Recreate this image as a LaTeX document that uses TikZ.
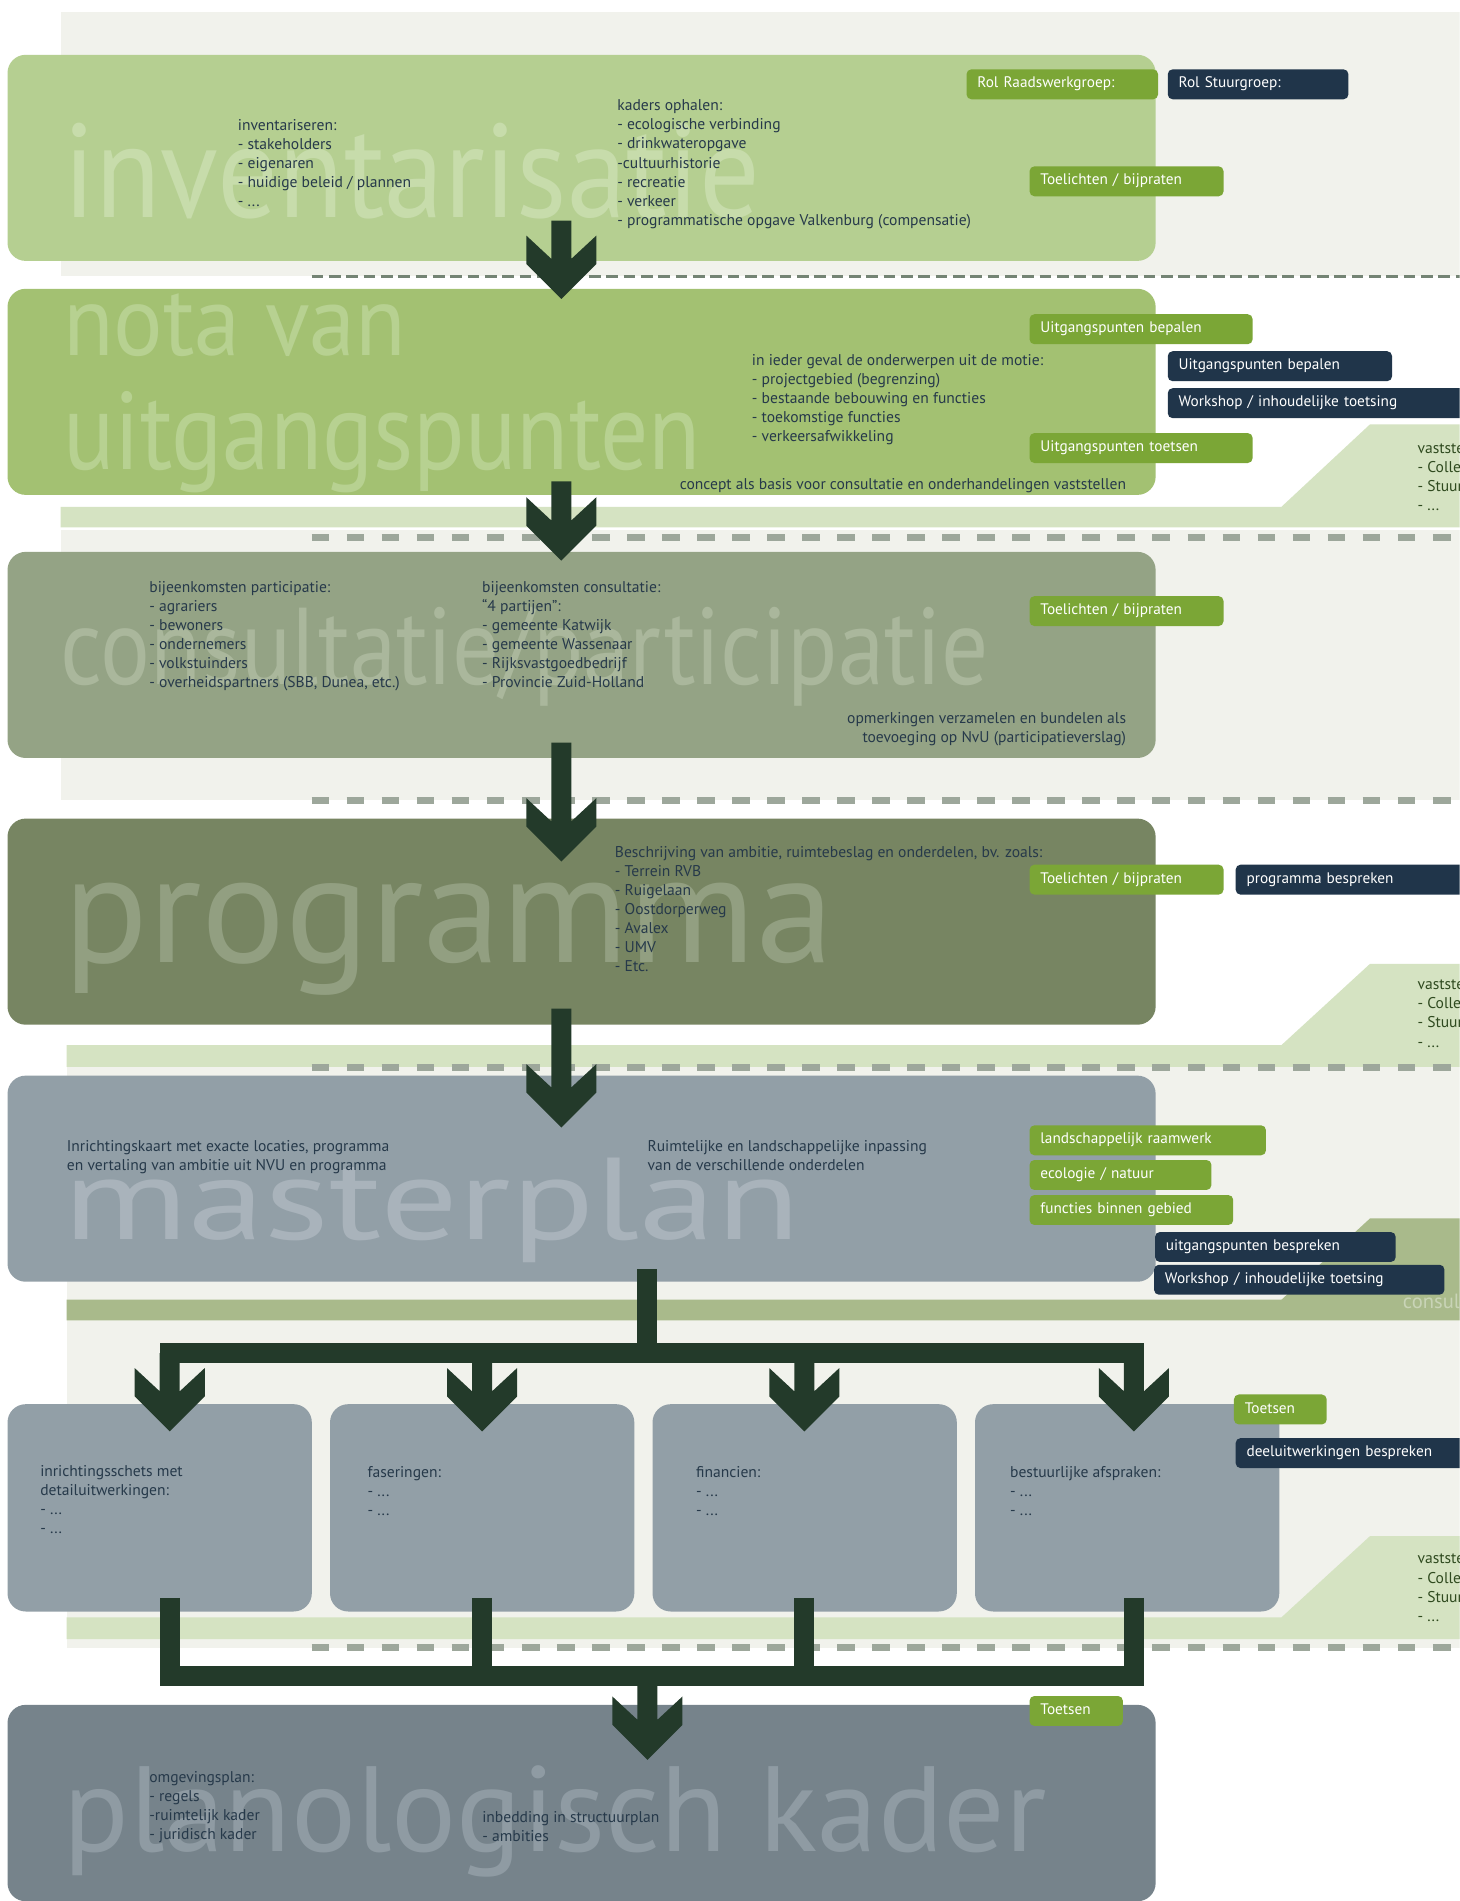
\documentclass[tikz,border=0pt]{standalone}
\usepackage{fontspec}
\setmainfont{PT Sans}
\usetikzlibrary{calc}

\definecolor{panelgray}{HTML}{F1F2EC}
\definecolor{invgreen}{HTML}{B5CF91}
\definecolor{invword}{HTML}{C7DCAB}
\definecolor{notagreen}{HTML}{A3C172}
\definecolor{notaword}{HTML}{B7D191}
\definecolor{consgreen}{HTML}{94A385}
\definecolor{consword}{HTML}{AAB79C}
\definecolor{proggreen}{HTML}{778562}
\definecolor{progword}{HTML}{929F81}
\definecolor{mastergray}{HTML}{929FA7}
\definecolor{masterword}{HTML}{A9B3BB}
\definecolor{plangray}{HTML}{76838B}
\definecolor{planword}{HTML}{8F9BA3}
\definecolor{bandlight}{HTML}{D5E3C2}
\definecolor{banddark}{HTML}{A9BA8B}
\definecolor{bandword}{HTML}{C9D4B7}
\definecolor{arrowgreen}{HTML}{233A2A}
\definecolor{taggreen}{HTML}{7BA636}
\definecolor{tagnavy}{HTML}{20354A}
\definecolor{textnavy}{HTML}{26394A}
\definecolor{textolive}{HTML}{2F4A1F}
\definecolor{dashthin}{HTML}{748474}
\definecolor{dashthick}{HTML}{9DA79B}

% big pale word in the background of a stage box
\newcommand{\bigtitle}[3]{\resizebox{#2pt}{\height}{\fontsize{#1pt}{#1pt}\selectfont #3}}
% lines of text, hung from the baseline of the first line
\newcommand{\lines}[1]{\begin{tabular}[t]{@{}l@{}}#1\end{tabular}}
\newcommand{\rlines}[1]{\begin{tabular}[t]{@{}r@{}}#1\end{tabular}}
% block arrow with chevron head, from #1 down to the tip #2
\newcommand{\flowarrow}[2]{%
  \fill[arrowgreen] ($(#1)+(-8.25,0)$) -- ($(#2)+(-8.25,-33.1)$) -- ($(#2)+(-28.9,-52.3)$)
    -- ($(#2)+(-28.9,-28.9)$) -- (#2) -- ($(#2)+(28.9,-28.9)$) -- ($(#2)+(28.9,-52.3)$)
    -- ($(#2)+(8.25,-33.1)$) -- ($(#1)+(8.25,0)$) -- cycle;}

\begin{document}
\begin{tikzpicture}[x=1pt, y=-1pt,
  stage/.style={rounded corners=15pt, inner sep=0pt, anchor=north west, minimum width=947pt, minimum height=170pt},
  subbox/.style={stage, minimum width=251pt, minimum height=171pt},
  bigword/.style={anchor=base west, inner sep=0pt},
  body/.style={anchor=base west, inner sep=0pt, text=textnavy, font=\fontsize{12.85}{15.7}\selectfont},
  bandtext/.style={body, text=textolive},
  tag/.style={rounded corners=4pt, anchor=north west, inner xsep=9pt, inner ysep=0pt, minimum height=24.7pt,
    align=left, text=white, text height=9pt, text depth=3pt, font=\fontsize{12.6}{15}\selectfont},
  flowline/.style={draw=arrowgreen, line width=16.5pt},
  thindash/.style={draw=dashthin, line width=2.2pt, dash pattern=on 9.6pt off 4.7pt},
  thickdash/.style={draw=dashthick, line width=5.8pt, dash pattern=on 14.6pt off 14.3pt}]
\useasboundingbox (0,0) rectangle (1204,1568);
\clip (0,0) rectangle (1204,1568);
\fill[white] (0,0) rectangle (1204,1568);

% background panels and bands
\fill[panelgray] (50,10) rectangle (1204,228);
\fill[panelgray] (50,437) rectangle (1204,660);
\fill[panelgray] (55,880) rectangle (1204,1359);
\fill[bandlight] (50,435) -- (50,418) -- (1057,418) -- (1130,350) -- (1204,350) -- (1204,435) -- cycle;
\fill[bandlight] (55,880) -- (55,862) -- (1057,862) -- (1130,795) -- (1204,795) -- (1204,880) -- cycle;
\fill[banddark] (55,1089) -- (55,1072) -- (1057,1072) -- (1130,1005) -- (1204,1005) -- (1204,1089) -- cycle;
\fill[bandlight] (55,1352) -- (55,1334) -- (1057,1334) -- (1130,1267) -- (1204,1267) -- (1204,1352) -- cycle;
\node[bandtext] (vast1) at (1169,374) {\lines{vaststellen:\\- College\\- Stuurgroep\\- ...}};
\node[bandtext] (vast2) at (1169,816.5) {\lines{vaststellen:\\- College\\- Stuurgroep\\- ...}};
\node[bandtext] (vast3) at (1169,1290) {\lines{vaststellen:\\- College\\- Stuurgroep\\- ...}};
\node[anchor=base west, inner sep=0pt, text=bandword, font=\fontsize{17}{17}\selectfont] (consultlabel) at (1157,1079) {consultatie};

\draw[thindash] (257,228) -- (1204,228);
\draw[thickdash] (257,443) -- (1204,443);
\draw[thickdash] (257,660) -- (1204,660);
\draw[thickdash] (257,880.5) -- (1204,880.5);
\draw[thickdash] (257,1359) -- (1204,1359);

% stages
\node[stage, fill=invgreen] (inv) at (6,45) {};
\node[stage, fill=notagreen] (nota) at (6,238) {};
\node[stage, fill=consgreen] (cons) at (6,455) {};
\node[stage, fill=proggreen] (prog) at (6,675) {};
\node[stage, fill=mastergray] (master) at (6,887) {};
\node[subbox, fill=mastergray] (sketch) at (6,1158) {};
\node[subbox, fill=mastergray] (phase) at (272,1158) {};
\node[subbox, fill=mastergray] (finance) at (538,1158) {};
\node[subbox, fill=mastergray] (govern) at (804,1158) {};
\node[stage, fill=plangray, minimum height=162pt] (plan) at (6,1406) {};

\node[bigword, text=invword] (invtitle) at (52,179) {\bigtitle{110}{575}{inventarisatie}};
\node[bigword, text=notaword] (notatitle) at (52,293.6) {\bigtitle{82}{283}{nota van}};
\node[bigword, text=notaword] (notatitleb) at (52,387.6) {\bigtitle{91}{526}{uitgangspunten}};
\node[bigword, text=consword] (constitle) at (50,565) {\bigtitle{90}{765}{consultatie/participatie}};
\node[bigword, text=progword] (progtitle) at (52,794) {\bigtitle{128}{636}{programma}};
\node[bigword, text=masterword] (mastertitle) at (52,1022.6) {\bigtitle{96}{608}{masterplan}};
\node[bigword, text=planword] (plantitle) at (52,1527) {\bigtitle{100}{811}{planologisch kader}};

% texts
\node[body] (invlist) at (196,107.8) {\lines{inventariseren:\\- stakeholders\\- eigenaren\\- huidige beleid / plannen\\- ...}};
\node[body] (invkaders) at (509,91.5) {\lines{kaders ophalen:\\- ecologische verbinding\\- drinkwateropgave\\-cultuurhistorie\\- recreatie\\- verkeer\\- programmatische opgave Valkenburg (compensatie)}};
\node[body] (notamotie) at (620,301.5) {\lines{in ieder geval de onderwerpen uit de motie:\\- projectgebied (begrenzing)\\- bestaande bebouwing en functies\\- toekomstige functies\\- verkeersafwikkeling}};
\node[body, anchor=base east] (notaconcept) at (929,404) {concept als basis voor consultatie en onderhandelingen vaststellen};
\node[body] (conspart) at (123,488.8) {\lines{bijeenkomsten participatie:\\- agrariers\\- bewoners\\- ondernemers\\- volkstuinders\\- overheidspartners (SBB, Dunea, etc.)}};
\node[body] (conscons) at (397.5,488.8) {\lines{bijeenkomsten consultatie:\\“4 partijen”:\\- gemeente Katwijk\\- gemeente Wassenaar\\- Rijksvastgoedbedrijf\\- Provincie Zuid-Holland}};
\node[body, anchor=base east] (consopm) at (929,596.5) {\rlines{opmerkingen verzamelen en bundelen als\\toevoeging op NvU (participatieverslag)}};
\node[body] (progbeschr) at (507,707.5) {\lines{Beschrijving van ambitie, ruimtebeslag en onderdelen, bv. zoals:\\- Terrein RVB\\- Ruigelaan\\- Oostdorperweg\\- Avalex\\- UMV\\- Etc.}};
\node[body] (masterkaart) at (55,950) {\lines{Inrichtingskaart met exacte locaties, programma\\en vertaling van ambitie uit NVU en programma}};
\node[body] (masterinpas) at (534,950) {\lines{Ruimtelijke en landschappelijke inpassing\\van de verschillende onderdelen}};
\node[body] (sketchtext) at (33,1218) {\lines{inrichtingsschets met\\detailuitwerkingen:\\- ...\\- ...}};
\node[body] (phasetext) at (303,1219) {\lines{faseringen:\\- ...\\- ...}};
\node[body] (financetext) at (574,1219) {\lines{financien:\\- ...\\- ...}};
\node[body] (governtext) at (833,1219) {\lines{bestuurlijke afspraken:\\- ...\\- ...}};
\node[body] (plantext) at (123,1470) {\lines{omgevingsplan:\\- regels\\-ruimtelijk kader\\- juridisch kader}};
\node[body] (structtext) at (397.6,1503.5) {\lines{inbedding in structuurplan\\- ambities}};

% arrows between the stages
\coordinate (invout) at (463,182);    \coordinate (notain) at (463,246.6);
\coordinate (notaout) at (463,397);   \coordinate (consin) at (463,462.4);
\coordinate (consout) at (463,612.5); \coordinate (progin) at (463,710.6);
\coordinate (progout) at (463,832);   \coordinate (masterin) at (463,930);
\flowarrow{invout}{notain}
\flowarrow{notaout}{consin}
\flowarrow{consout}{progin}
\flowarrow{progout}{masterin}

% split into the four parts
\coordinate (masterout) at (534,1047);
\coordinate (split) at (534,1116);
\coordinate (splitleft) at (140,1116);
\coordinate (splitright) at (935.3,1116);
\draw[flowline] (masterout) -- (split);
\draw[flowline, line cap=rect] (splitleft) -- (splitright);
\foreach \bx/\nm in {140/sketch, 397.6/phase, 663.4/finance, 935.3/govern} {
  \coordinate (\nm top) at (\bx,1116);
  \coordinate (\nm tip) at (\bx,1180.7);
  \flowarrow{\nm top}{\nm tip}
  \coordinate (\nm out) at (\bx,1318);
  \coordinate (\nm merge) at (\bx,1382.5);
  \draw[flowline] (\nm out) -- (\nm merge);
}
\coordinate (merge) at (534,1382.5);
\coordinate (planin) at (534,1451.6);
\draw[flowline, line cap=rect] (sketchmerge) -- (governmerge);
\flowarrow{merge}{planin}

% roles
\node[tag, fill=taggreen, text width=140pt] (rolraad) at (797,57) {Rol Raadswerkgroep:};
\node[tag, fill=tagnavy, text width=131pt] (rolstuur) at (963,57) {Rol Stuurgroep:};
\node[tag, fill=taggreen, text width=142pt] (invtoel) at (849,137) {Toelichten / bijpraten};
\node[tag, fill=taggreen, text width=166pt] (notabep) at (849,259) {Uitgangspunten bepalen};
\node[tag, fill=tagnavy, text width=167pt] (notabeps) at (963,289.5) {Uitgangspunten bepalen};
\node[tag, fill=tagnavy, text width=227pt] (notawork) at (963,320) {Workshop / inhoudelijke toetsing};
\node[tag, fill=taggreen, text width=166pt] (notatoets) at (849,357) {Uitgangspunten toetsen};
\node[tag, fill=taggreen, text width=142pt] (constoel) at (849,491.5) {Toelichten / bijpraten};
\node[tag, fill=taggreen, text width=142pt] (progtoel) at (849,713) {Toelichten / bijpraten};
\node[tag, fill=tagnavy, text width=182pt] (progbesp) at (1019,713) {programma bespreken};
\node[tag, fill=taggreen, text width=177pt] (masterraam) at (849,928) {landschappelijk raamwerk};
\node[tag, fill=taggreen, text width=132pt] (mastereco) at (849,956.6) {ecologie / natuur};
\node[tag, fill=taggreen, text width=150pt] (masterfunc) at (849,985.5) {functies binnen gebied};
\node[tag, fill=tagnavy, text width=180.5pt] (masterbesp) at (952.5,1016) {uitgangspunten bespreken};
\node[tag, fill=tagnavy, text width=221.5pt] (masterwork) at (951.7,1043) {Workshop / inhoudelijke toetsing};
\node[tag, fill=taggreen, text width=58.5pt] (deeltoets) at (1017.6,1150) {Toetsen};
\node[tag, fill=tagnavy, text width=182pt] (deelbesp) at (1019,1186) {deeluitwerkingen bespreken};
\node[tag, fill=taggreen, text width=59pt] (plantoets) at (849,1398.7) {Toetsen};
\end{tikzpicture}
\end{document}
